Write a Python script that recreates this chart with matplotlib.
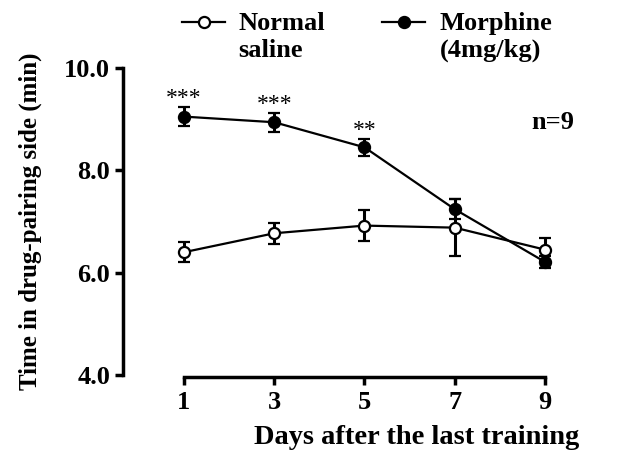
import matplotlib
matplotlib.use("Agg")
import matplotlib.pyplot as plt
from matplotlib.lines import Line2D

days = [1, 3, 5, 7, 9]
saline_mean = [6.40, 6.77, 6.92, 6.88, 6.45]
saline_err = [0.20, 0.21, 0.30, 0.56, 0.23]
morphine_mean = [9.05, 8.94, 8.45, 7.24, 6.21]
morphine_err = [0.18, 0.19, 0.17, 0.20, 0.11]
sig_labels = ["***", "***", "**", "", ""]
yticks = [4.0, 6.0, 8.0, 10.0]
series_names = ["Normal\nsaline", "Morphine\n(4mg/kg)"]

plt.rcParams['font.family'] = ['Liberation Serif', 'DejaVu Serif']
plt.rcParams['font.weight'] = 'bold'

W, H = 641, 451
fig = plt.figure(figsize=(W / 100, H / 100), dpi=100)
ax = fig.add_axes([122.5 / W, (H - 375) / H, 436 / W, 307 / H])

for side in ['top', 'right']:
    ax.spines[side].set_visible(False)
ax.spines['left'].set_linewidth(2.5)
ax.spines['bottom'].set_linewidth(2.5)
ax.spines['bottom'].set_position(('outward', 1.5))

common = dict(color='black', lw=1.6, ms=8, mec='black', mew=1.6,
              capsize=4.5, capthick=2.2, elinewidth=2.2, clip_on=False)
ax.errorbar(days, saline_mean, yerr=saline_err, marker='o', mfc='white',
            zorder=3, **common)
ax.errorbar(days, morphine_mean, yerr=morphine_err, marker='o', mfc='black',
            zorder=4, **common)

for d, m, e, s in zip(days, morphine_mean, morphine_err, sig_labels):
    if s:
        ax.text(d, m + e - 0.04, s, ha='center', va='bottom', fontsize=17,
                fontweight='normal')

ax.text(9.18, 8.93, "n=9", ha='center', va='center', fontsize=19, fontweight='bold')

ax.set_xlim(-0.363, 9.3)
ax.set_ylim(4.0, 10.0)
ax.spines['bottom'].set_bounds(1, 9)
ax.spines['left'].set_bounds(4, 10)
ax.set_xticks(days)
ax.set_xticklabels([str(d) for d in days], fontsize=19, fontweight='bold')
ax.set_yticks(yticks)
ax.set_yticklabels([f"{v:.1f}" for v in yticks], fontsize=19, fontweight='bold')
ax.tick_params(axis='both', width=2.5, length=6, direction='out')
ax.tick_params(axis='x', pad=4)
ax.tick_params(axis='y', pad=3)

ax.set_xlabel("Days after the last training", fontsize=20.5, fontweight='bold')
ax.xaxis.label.set_va('center')
ax.xaxis.set_label_coords((417 - 122.5) / 436, -62 / 307)
ax.set_ylabel("Time in drug-pairing side (min)", fontsize=18, fontweight='bold')
ax.yaxis.label.set_va('center')
ax.yaxis.set_label_coords((30 - 122.5) / 436, 0.5)

# legend (drawn manually so the handle sits beside the first text line)
leg_specs = [(182, 225, 238, 'white'), (382, 425, 440, 'black')]
for (x0, x1, tx, fc), name in zip(leg_specs, series_names):
    yl = 1 - 22 / H
    fig.add_artist(Line2D([x0 / W, x1 / W], [yl, yl], color='black', lw=1.6,
                          transform=fig.transFigure))
    fig.add_artist(Line2D([(x0 + x1) / 2 / W], [yl], marker='o', ms=8,
                          mfc=fc, mec='black', mew=1.6, transform=fig.transFigure))
    fig.text(tx / W, 1 - 12 / H, name, ha='left', va='top', fontsize=19,
             fontweight='bold', linespacing=1.2)

fig.savefig("out.png", dpi=100)
